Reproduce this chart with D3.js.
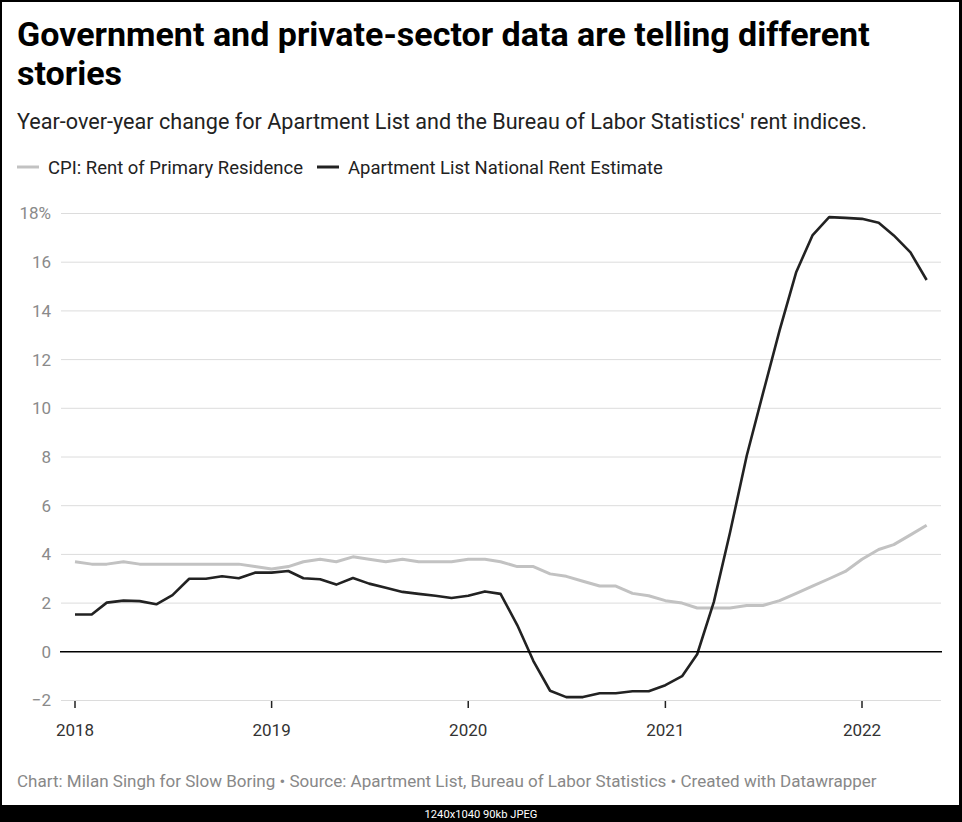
<!DOCTYPE html>
<html>
<head>
<meta charset="utf-8">
<script src="https://cdn.jsdelivr.net/npm/d3@7"></script>
<style>
  html, body { margin: 0; padding: 0; background: #000; }
  svg { display: block; font-family: Roboto, "Noto Sans", sans-serif; }
</style>
</head>
<body>
<svg id="chart" width="962" height="822"></svg>
<script>
// ---- data ----
const startYear = 2018;
const months = d3.range(53).map(i => new Date(startYear, i, 1)); // Jan 2018 .. May 2022
const cpiRent = [
  3.7, 3.6, 3.6, 3.7, 3.6, 3.6, 3.6, 3.6, 3.6, 3.6, 3.6, 3.5,
  3.4, 3.5, 3.7, 3.8, 3.7, 3.9, 3.8, 3.7, 3.8, 3.7, 3.7, 3.7,
  3.8, 3.8, 3.7, 3.5, 3.5, 3.2, 3.1, 2.9, 2.7, 2.7, 2.4, 2.3,
  2.1, 2.0, 1.8, 1.8, 1.8, 1.9, 1.9, 2.1, 2.4, 2.7, 3.0, 3.3,
  3.8, 4.2, 4.4, 4.8, 5.2
];
const apartmentList = [
  1.53, 1.53, 2.02, 2.1, 2.08, 1.95, 2.33, 3.0, 3.0, 3.1, 3.02, 3.25,
  3.25, 3.32, 3.02, 2.98, 2.76, 3.03, 2.8, 2.63, 2.46, 2.38, 2.3, 2.21,
  2.3, 2.48, 2.38, 1.1, -0.38, -1.6, -1.86, -1.86, -1.7, -1.7, -1.62, -1.62,
  -1.37, -1.0, -0.1, 2.05, 4.9, 8.05, 10.6, 13.2, 15.6, 17.1, 17.85, 17.82,
  17.78, 17.62, 17.1, 16.4, 15.27
];
const yTicks = [-2, 0, 2, 4, 6, 8, 10, 12, 14, 16, 18];
const xTickYears = [2018, 2019, 2020, 2021, 2022];
const seriesNames = ["CPI: Rent of Primary Residence", "Apartment List National Rent Estimate"];
const seriesColors = ["#c2c2c2", "#222222"];

const titleLines = ["Government and private-sector data are telling different", "stories"];
const subtitle = "Year-over-year change for Apartment List and the Bureau of Labor Statistics' rent indices.";
const footer = "Chart: Milan Singh for Slow Boring \u2022 Source: Apartment List, Bureau of Labor Statistics \u2022 Created with Datawrapper";
const viewerCaption = "1240x1040 90kb JPEG";

// ---- layout ----
const svg = d3.select("#chart");
const W = 962, H = 822;

svg.append("rect").attr("x", 0).attr("y", 0).attr("width", W).attr("height", H).attr("fill", "#000");
svg.append("rect").attr("x", 2).attr("y", 2).attr("width", 957).attr("height", 803).attr("fill", "#fff");

function fitWidth(sel, target) {
  const w = sel.node().getComputedTextLength();
  const fs = parseFloat(sel.attr("font-size"));
  sel.attr("font-size", (fs * target / w).toFixed(2));
}

// title
titleLines.forEach((t, i) => {
  const s = svg.append("text").attr("x", 17).attr("y", 46 + i * 39)
    .attr("font-size", 30).attr("font-weight", 700).attr("fill", "#000").text(t);
  if (i === 0) fitWidth(s, 853);
  else s.attr("font-size", svg.select("text:nth-of-type(1)").attr("font-size"));
});
// subtitle
const sub = svg.append("text").attr("x", 17).attr("y", 129)
  .attr("font-size", 20).attr("fill", "#222").text(subtitle);
fitWidth(sub, 850);

// legend
const lg1 = svg.append("g");
lg1.append("line").attr("x1", 17).attr("x2", 39).attr("y1", 167).attr("y2", 167)
  .attr("stroke", seriesColors[0]).attr("stroke-width", 3);
const lt1 = lg1.append("text").attr("x", 48).attr("y", 174).attr("font-size", 17).attr("fill", "#222").text(seriesNames[0]);
fitWidth(lt1, 255);
const lg2 = svg.append("g");
lg2.append("line").attr("x1", 317).attr("x2", 339).attr("y1", 167).attr("y2", 167)
  .attr("stroke", seriesColors[1]).attr("stroke-width", 3);
const lt2 = lg2.append("text").attr("x", 348).attr("y", 174).attr("font-size", 17).attr("fill", "#222").text(seriesNames[1]);
fitWidth(lt2, 315);

// scales
const x = d3.scaleTime().domain([new Date(2018, 0, 1), new Date(2022, 0, 1)]).range([75, 862]);
const y = d3.scaleLinear().domain([-2, 18]).range([700.5, 213.5]);
const gridX1 = 61, gridX2 = 941;

// y grid + labels
const yAxis = svg.append("g");
yTicks.forEach(v => {
  if (v !== 0) {
    yAxis.append("line").attr("x1", gridX1).attr("x2", gridX2)
      .attr("y1", y(v)).attr("y2", y(v)).attr("stroke", "#dcdcdc").attr("stroke-width", 1);
  }
  yAxis.append("text").attr("x", 51).attr("y", y(v)).attr("dy", "0.35em")
    .attr("text-anchor", "end").attr("font-size", 17).attr("fill", "#8a8a8a")
    .text((v < 0 ? "\u2212" + Math.abs(v) : v) + (v === 18 ? "%" : ""));
});

// x ticks + labels
const xAxis = svg.append("g");
xTickYears.forEach(yr => {
  const xv = x(new Date(yr, 0, 1));
  xAxis.append("line").attr("x1", xv).attr("x2", xv).attr("y1", 701).attr("y2", 708)
    .attr("stroke", "#222").attr("stroke-width", 1.5);
  xAxis.append("text").attr("x", xv).attr("y", 736).attr("text-anchor", "middle")
    .attr("font-size", 17).attr("fill", "#333").text(yr);
});

// lines
const lineGen = d3.line().x((d, i) => x(months[i])).y(d => y(d));
svg.append("path").datum(cpiRent).attr("d", lineGen).attr("fill", "none")
  .attr("stroke", seriesColors[0]).attr("stroke-width", 3).attr("stroke-linejoin", "round");
svg.append("path").datum(apartmentList).attr("d", lineGen).attr("fill", "none")
  .attr("stroke", seriesColors[1]).attr("stroke-width", 2.6).attr("stroke-linejoin", "round");

// zero line on top
svg.append("line").attr("x1", 60).attr("x2", 942).attr("y1", y(0)).attr("y2", y(0))
  .attr("stroke", "#000").attr("stroke-width", 1.6);

// footer
const ft = svg.append("text").attr("x", 17).attr("y", 787).attr("font-size", 16).attr("fill", "#888").text(footer);
fitWidth(ft, 860);

// viewer caption in black strip
const vc = svg.append("text").attr("x", 481).attr("y", 818).attr("text-anchor", "middle")
  .attr("font-size", 11).attr("fill", "#fff").text(viewerCaption);
fitWidth(vc, 113);
</script>
</body>
</html>
